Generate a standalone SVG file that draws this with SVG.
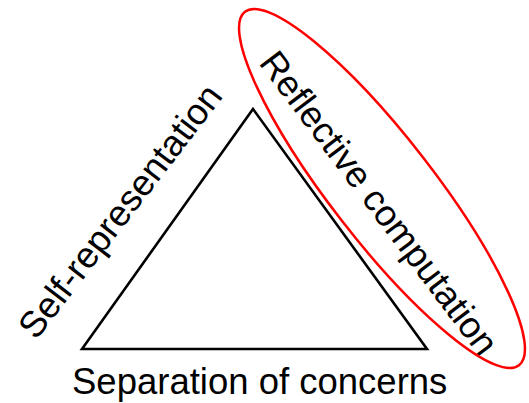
<svg xmlns="http://www.w3.org/2000/svg" width="529" height="403" viewBox="0 0 529 403">
<style>
.lbl{font-family:"Liberation Sans",Arial,sans-serif;font-size:36.5px;fill:#000}
.tri{fill:none;stroke:#000;stroke-width:2.6;stroke-linejoin:miter}
.hl{fill:none;stroke:#ff0000;stroke-width:2.5}
</style>
<rect width="529" height="403" fill="#fff"/>
<g id="triangle">
<polygon class="tri" points="82,349 253,109 427,349"/>
</g>
<g id="self-representation">
<text class="lbl" transform="translate(36,341) rotate(-52.5)">Self-representation</text>
</g>
<g id="reflective-computation">
<text class="lbl" transform="translate(258,63) rotate(53)">Reflective computation</text>
</g>
<g id="separation-of-concerns">
<text class="lbl" x="72" y="394">Separation of concerns</text>
</g>
<g id="connectors">
<ellipse class="hl" cx="382" cy="188.5" rx="223.6" ry="51.5" transform="rotate(52.2 382 188.5)"/>
</g>
</svg>
